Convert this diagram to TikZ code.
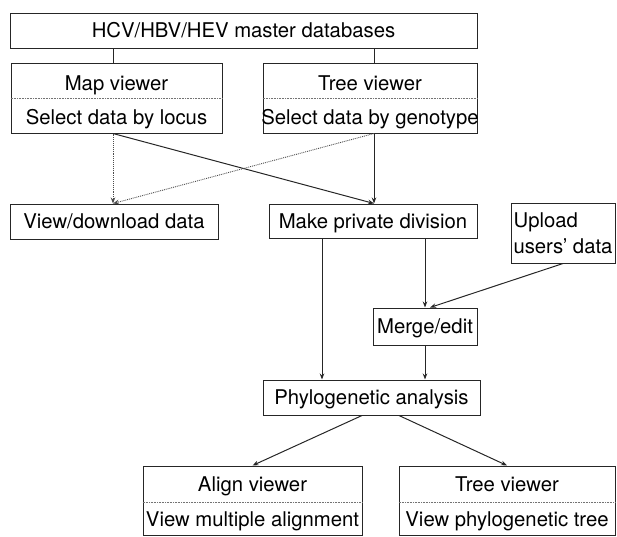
\documentclass[tikz,border=0pt]{standalone}
\usepackage{fontspec}
\setmainfont{TeX Gyre Heros}
\usetikzlibrary{arrows.meta,calc}

\begin{document}
\begin{tikzpicture}[x=1pt,y=-1pt,
    frame/.style={draw=black!85, line width=1pt, inner sep=0pt},
    box/.style={frame, text height=16pt, text depth=2pt},
    txt/.style={inner sep=0pt, anchor=base},
    divider/.style={draw=black!55, densely dotted, line width=0.6pt},
    link/.style={draw=black!85, line width=1pt},
    weak/.style={draw=black!70, densely dotted, line width=0.9pt},
    >={Stealth[length=6pt,width=4.5pt]},
    every node/.append style={font=\fontsize{20.3}{25.6}\selectfont}]
  \useasboundingbox (0,0) rectangle (617,536);

  \node[box, minimum width=467pt, minimum height=35pt] (master) at (243.5,30.5) {HCV/HBV/HEV master databases};

  % viewers
  \node[frame, minimum width=211pt, minimum height=70pt] (mapv) at (116.5,98) {};
  \node[txt] (mapvt) at (116.5,90.7) {Map viewer};
  \node[txt] (mapvs) at (116.5,124) {Select data by locus};
  \draw[divider] (mapv.west) -- (mapv.east);

  \node[frame, minimum width=214pt, minimum height=70pt] (treev) at (370,98) {};
  \node[txt] (treevt) at (370,90.7) {Tree viewer};
  \node[txt] (treevs) at (370,124) {Select data by genotype};
  \draw[divider] (treev.west) -- (treev.east);

  \node[box, minimum width=208pt, minimum height=35pt] (viewdl) at (114,221.5) {View/download data};
  \node[box, minimum width=208pt, minimum height=34pt] (makepd) at (373,221) {Make private division};
  \node[frame, minimum width=104pt, minimum height=60pt, align=left] (upload) at (563,233) {Upload\\users' data};
  \node[box, minimum width=104pt, minimum height=37pt] (merge) at (425,326.5) {Merge/edit};
  \node[box, minimum width=217pt, minimum height=35pt] (phylo) at (371.5,397.5) {Phylogenetic analysis};

  % result viewers
  \node[frame, minimum width=219pt, minimum height=69pt] (alignv) at (252.5,500.5) {};
  \node[txt] (alignvt) at (252.5,491) {Align viewer};
  \node[txt] (alignvs) at (252.5,526.7) {View multiple alignment};
  \draw[divider] ([yshift=-1.5pt]alignv.west) -- ([yshift=-1.5pt]alignv.east);

  \node[frame, minimum width=216pt, minimum height=69pt] (treeb) at (507,500.5) {};
  \node[txt] (treebt) at (507,491) {Tree viewer};
  \node[txt] (treebs) at (507,526.7) {View phylogenetic tree};
  \draw[divider] ([yshift=-1.5pt]treeb.west) -- ([yshift=-1.5pt]treeb.east);

  \coordinate (mapin) at ([xshift=-3.5pt]mapv.north);
  \coordinate (mapout) at ([xshift=-3.5pt]mapv.south);
  \coordinate (treein) at ([xshift=4pt]treev.north);
  \coordinate (treeout) at ([xshift=4pt]treev.south);
  \coordinate (pdleft) at ([xshift=-51pt]makepd.south);

  \draw[link] (mapin |- master.south) -- (mapin);
  \draw[link] (treein |- master.south) -- (treein);
  % selections
  \draw[weak,->] (mapout) -- (mapout |- viewdl.north);
  \draw[link,->] (mapout) -- (treeout |- makepd.north);
  \draw[link,->] (treeout) -- (treeout |- makepd.north);
  \draw[weak,->] (treeout) -- (mapout |- viewdl.north);
  % private division
  \draw[link,->] (pdleft) -- (pdleft |- phylo.north);
  \draw[link,->] (merge.north |- makepd.south) -- (merge.north);
  \draw[link,->] (upload.south) -- ([xshift=5pt]merge.north);
  \draw[link,->] (merge.south) -- (merge.south |- phylo.north);
  % analysis output
  \draw[link,->] ([xshift=-9.5pt]phylo.south) -- (alignv.north);
  \draw[link,->] ([xshift=27.5pt]phylo.south) -- (treeb.north);
\end{tikzpicture}
\end{document}
